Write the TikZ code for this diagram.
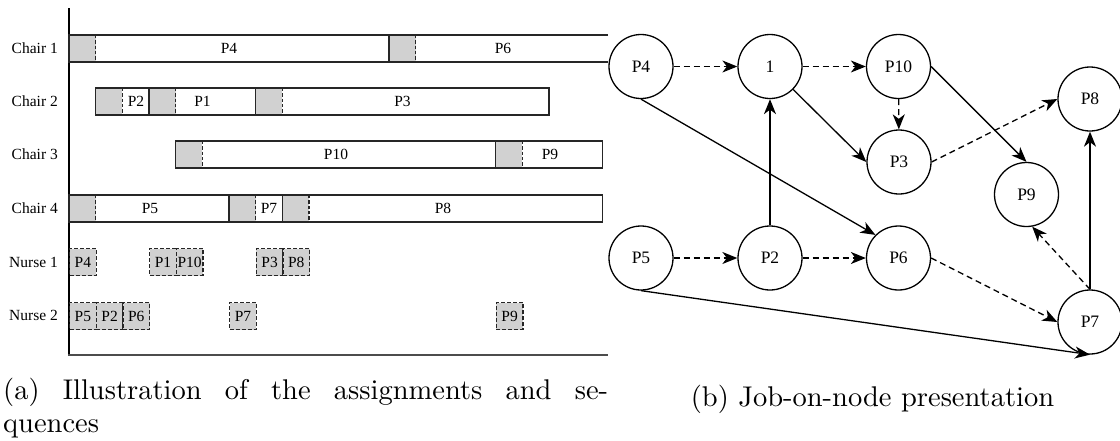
\documentclass[tikz,border=0pt]{standalone}
\usepackage{fontspec}
\newfontfamily\labfont{Liberation Serif}
\newfontfamily\capfont{lmroman10-regular}[Extension=.otf]
\usetikzlibrary{arrows.meta}
\newcommand\KX[1]{(69+26.667*(#1))}
\begin{document}
\begin{tikzpicture}[x=1pt,y=-1pt,
  bar/.style={draw=black!85, line width=1.2pt},
  sep/.style={draw=black!85, line width=1.2pt, dash pattern=on 3.3pt off 2pt},
  gfill/.style={fill=black!18},
  nbox/.style={fill=black!18, draw=black!85, line width=1.2pt, dash pattern=on 4pt off 2pt,
    minimum width=26.667pt, minimum height=27pt, inner sep=0, anchor=north west,
    font=\labfont\fontsize{15.5}{18}\selectfont},
  lab/.style={font=\labfont\fontsize{15.5}{18}\selectfont, inner sep=0},
  job/.style={circle, draw, line width=1.3pt, minimum size=64pt, inner sep=0,
    font=\labfont\fontsize{17.5}{20}\selectfont},
  arr/.style={line width=1.3pt, -{Stealth[length=15pt,width=12pt,inset=4.5pt]}},
  darr/.style={arr, dash pattern=on 6pt off 4pt},
  captext/.style={font=\capfont\fontsize{28.5}{33}\selectfont, inner sep=0},
]
\useasboundingbox (0,0) rectangle (1120,440);

% ---------- axes ----------
\draw[line width=1.3pt] (69,8) -- (69,355);
\draw[line width=2pt, draw=black!70] (68.35,355) -- (608,355);

% ---------- row labels ----------
\node[lab, anchor=east] (lc1) at (58,48.5) {Chair 1};
\node[lab, anchor=east] (lc2) at (58,101.5) {Chair 2};
\node[lab, anchor=east] (lc3) at (58,154.5) {Chair 3};
\node[lab, anchor=east] (lc4) at (58,208.5) {Chair 4};
\node[lab, anchor=east] (ln1) at (58,262) {Nurse 1};
\node[lab, anchor=east] (ln2) at (58,315.5) {Nurse 2};

% ---------- Chair 1 ----------
\fill[gfill] ({\KX0},35) rectangle ({\KX1},62);
\fill[gfill] ({\KX{12}},35) rectangle ({\KX{13}},62);
\draw[bar] (608,35) -- ({\KX0},35) -- ({\KX0},62) -- (608,62);
\draw[bar] ({\KX{12}},35) -- ({\KX{12}},62);
\draw[sep] ({\KX1},35) -- ({\KX1},62);
\draw[sep] ({\KX{13}},35) -- ({\KX{13}},62);
\node[lab] (c1p4) at (229,48.5) {P4};
\node[lab] (c1p6) at (503,48.5) {P6};

% ---------- Chair 2 ----------
\fill[gfill] ({\KX1},88) rectangle ({\KX2},115);
\fill[gfill] ({\KX3},88) rectangle ({\KX4},115);
\fill[gfill] ({\KX7},88) rectangle ({\KX8},115);
\draw[bar] ({\KX1},88) rectangle ({\KX{18}},115);
\draw[bar] ({\KX3},88) -- ({\KX3},115);
\draw[bar] ({\KX7},88) -- ({\KX7},115);
\draw[sep] ({\KX2},88) -- ({\KX2},115);
\draw[sep] ({\KX4},88) -- ({\KX4},115);
\draw[sep] ({\KX8},88) -- ({\KX8},115);
\node[lab] (c2p2) at (136,101.5) {P2};
\node[lab] (c2p1) at (202.5,101.5) {P1};
\node[lab] (c2p3) at (402.5,101.5) {P3};

% ---------- Chair 3 ----------
\fill[gfill] ({\KX4},141) rectangle ({\KX5},168);
\fill[gfill] ({\KX{16}},141) rectangle ({\KX{17}},168);
\draw[bar] ({\KX4},141) rectangle ({\KX{20}},168);
\draw[bar] ({\KX{16}},141) -- ({\KX{16}},168);
\draw[sep] ({\KX5},141) -- ({\KX5},168);
\draw[sep] ({\KX{17}},141) -- ({\KX{17}},168);
\node[lab] (c3p10) at (336,154.5) {P10};
\node[lab] (c3p9) at (550,154.5) {P9};

% ---------- Chair 4 ----------
\fill[gfill] ({\KX0},195) rectangle ({\KX1},222);
\fill[gfill] ({\KX6},195) rectangle ({\KX7},222);
\fill[gfill] ({\KX8},195) rectangle ({\KX9},222);
\draw[bar] ({\KX0},195) rectangle ({\KX{20}},222);
\draw[bar] ({\KX6},195) -- ({\KX6},222);
\draw[bar] ({\KX8},195) -- ({\KX8},222);
\draw[sep] ({\KX1},195) -- ({\KX1},222);
\draw[sep] ({\KX7},195) -- ({\KX7},222);
\draw[sep] ({\KX9},195) -- ({\KX9},222);
\node[lab] (c4p5) at (150,208.5) {P5};
\node[lab] (c4p7) at (269,208.5) {P7};
\node[lab] (c4p8) at (443,208.5) {P8};

% ---------- Nurse 1 ----------
\node[nbox] (n1p4) at ({\KX0},248) {P4};
\node[nbox] (n1p1) at ({\KX3},248) {P1};
\node[nbox] (n1p10) at ({\KX4},248) {P10};
\node[nbox] (n1p3) at ({\KX7},248) {P3};
\node[nbox] (n1p8) at ({\KX8},248) {P8};

% ---------- Nurse 2 ----------
\node[nbox] (n2p5) at ({\KX0},302) {P5};
\node[nbox] (n2p2) at ({\KX1},302) {P2};
\node[nbox] (n2p6) at ({\KX2},302) {P6};
\node[nbox] (n2p7) at ({\KX6},302) {P7};
\node[nbox] (n2p9) at ({\KX{16}},302) {P9};

% ---------- graph ----------
\node[job] (P4) at (641,66.5) {P4};
\node[job] (N1) at (770,66.5) {1};
\node[job] (P10) at (898.5,66.5) {P10};
\node[job] (P3) at (899,162) {P3};
\node[job] (P8) at (1090,99) {P8};
\node[job] (P9) at (1026.5,194.5) {P9};
\node[job] (P5) at (641,258) {P5};
\node[job] (P2) at (770,258) {P2};
\node[job] (P6) at (898.5,258) {P6};
\node[job] (P7) at (1090,322) {P7};

\draw[darr] (P4) -- (N1);
\draw[darr] (N1) -- (P10);
\draw[darr] (P10) -- (P3);
\draw[arr] (N1) -- (P3.west);
\draw[arr] (P10.east) -- (P9.north);
\draw[darr] (P3.east) -- (P8.west);
\draw[arr] (P4.south) -- (P6.135);
\draw[arr] (P2) -- (N1);
\draw[darr] (P5) -- (P2);
\draw[darr] (P2) -- (P6);
\draw[darr] (P6.east) -- (P7.west);
\draw[darr] (P7.north) -- (P9.-80);
\draw[arr] (P7) -- (P8);
\draw[arr] (P5.south) -- (P7.south);

% ---------- captions ----------
\node[captext, anchor=base west] (capa1) at (3,399) {\makebox[605pt][s]{(a) Illustration of the assignments and se-}};
\node[captext, anchor=base west] (capa2) at (3,432) {quences};
\node[captext, anchor=base] (capb) at (872.5,406) {(b) Job-on-node presentation};
\end{tikzpicture}
\end{document}
